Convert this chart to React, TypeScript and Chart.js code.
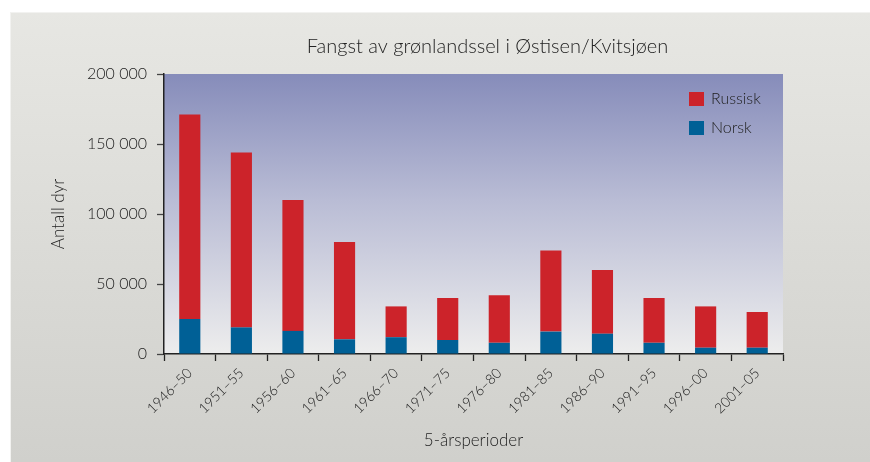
import React, { useEffect, useRef } from 'react';
import { Chart, registerables } from 'chart.js';

Chart.register(...registerables);

const titleText = 'Fangst av grønlandssel i Østisen/Kvitsjøen';
const yTitle = 'Antall dyr';
const xTitle = '5-årsperioder';

const categories = [
  '1946–50', '1951–55', '1956–60', '1961–65', '1966–70', '1971–75',
  '1976–80', '1981–85', '1986–90', '1991–95', '1996–00', '2001–05',
];

const norsk = [25000, 19000, 16500, 10500, 12000, 10000, 8000, 16000, 14500, 8000, 4500, 4500];
const russisk = [146000, 125000, 93500, 69500, 22000, 30000, 34000, 58000, 45500, 32000, 29500, 25500];

const yTickValues = [0, 50000, 100000, 150000, 200000];
const yTickLabels = ['0', '50 000', '100 000', '150 000', '200 000'];

const FONT = "Lato, 'Open Sans', 'DejaVu Sans', sans-serif";
const TEXT = '#222222';

const plotBgPlugin = {
  id: 'plotBg',
  beforeDraw(chart: any) {
    const { ctx, chartArea: a } = chart;
    const g = ctx.createLinearGradient(0, a.top, 0, a.bottom);
    g.addColorStop(0, '#868cba');
    g.addColorStop(0.45, '#b9bcd5');
    g.addColorStop(1, '#ededed');
    ctx.save();
    ctx.fillStyle = g;
    ctx.fillRect(a.left, a.top, a.right - a.left, a.bottom - a.top);
    ctx.restore();
  },
};

const titlePlugin = {
  id: 'customTitle',
  afterDraw(chart: any) {
    const { ctx, chartArea: a } = chart;
    ctx.save();
    ctx.font = `300 20px ${FONT}`;
    ctx.fillStyle = TEXT;
    ctx.textAlign = 'center';
    ctx.textBaseline = 'middle';
    ctx.fillText(titleText, (a.left + a.right) / 2 + 14, a.top - 27);
    ctx.restore();
  },
};

const legendPlugin = {
  id: 'insideLegend',
  afterDraw(chart: any) {
    const { ctx, chartArea: a } = chart;
    const ds = [...chart.data.datasets].reverse();
    ctx.save();
    ctx.font = `300 16px ${FONT}`;
    ctx.textBaseline = 'middle';
    ctx.textAlign = 'left';
    ds.forEach((d: any, i: number) => {
      const x = a.right - 94;
      const y = a.top + 18 + i * 29;
      ctx.fillStyle = d.backgroundColor;
      ctx.fillRect(x, y, 15, 14);
      ctx.fillStyle = TEXT;
      ctx.fillText(d.label, x + 22, y + 7);
    });
    ctx.restore();
  },
};

export default function App() {
  const ref = useRef<HTMLCanvasElement>(null);

  useEffect(() => {
    if (!ref.current) return;
    const chart = new Chart(ref.current, {
      type: 'bar',
      data: {
        labels: categories,
        datasets: [
          { label: 'Norsk', data: norsk, backgroundColor: '#006096', borderWidth: 0 },
          { label: 'Russisk', data: russisk, backgroundColor: '#cc232a', borderWidth: 0 },
        ],
      },
      options: {
        animation: false,
        responsive: false,
        devicePixelRatio: 1,
        layout: { padding: { left: 0, right: 87, top: 62, bottom: 0 } },
        datasets: { bar: { categoryPercentage: 1, barPercentage: 0.41 } },
        plugins: {
          legend: { display: false },
          title: { display: false },
          tooltip: { enabled: false },
        },
        scales: {
          x: {
            stacked: true,
            grid: { drawOnChartArea: false, tickLength: 7, tickColor: '#222', tickWidth: 1.3, offset: true },
            border: { display: true, color: '#222', width: 1.5 },
            ticks: {
              color: TEXT,
              font: { family: FONT, size: 14, weight: '300' },
              maxRotation: 45,
              minRotation: 45,
              padding: 4,
            },
            title: {
              display: true,
              text: xTitle,
              color: TEXT,
              font: { family: FONT, size: 17, weight: '300' },
              padding: { top: 0, bottom: 11 },
            },
            afterFit(scale: any) {
              scale.height = 108;
            },
          },
          y: {
            stacked: true,
            min: 0,
            max: 200000,
            afterBuildTicks(scale: any) {
              scale.ticks = yTickValues.map((v) => ({ value: v }));
            },
            grid: { drawOnChartArea: false, tickLength: 7, tickColor: '#444', tickWidth: 1.3 },
            border: { display: true, color: '#222', width: 1.5 },
            ticks: {
              color: TEXT,
              font: { family: FONT, size: 16, weight: '300' },
              padding: 10,
              callback: (v: any) => {
                const i = yTickValues.indexOf(Number(v));
                return i >= 0 ? yTickLabels[i] : '';
              },
            },
            title: {
              display: true,
              text: yTitle,
              color: TEXT,
              font: { family: FONT, size: 17, weight: '300' },
              padding: { top: 38, bottom: 0 },
            },
            afterFit(scale: any) {
              scale.width = 154;
            },
          },
        },
      },
      plugins: [plotBgPlugin, titlePlugin, legendPlugin],
    });
    return () => chart.destroy();
  }, []);

  return (
    <div style={{ position: 'absolute', left: 0, top: 0, width: 870, height: 462, background: '#fff', overflow: 'hidden' }}>
      <div
        style={{
          position: 'absolute',
          left: 10,
          top: 12,
          width: 860,
          height: 450,
          background: 'linear-gradient(#e7e7e3, #d0d0cc)',
          boxShadow: 'inset 1px 1px 0 #f2f2f0',
        }}
      >
        <canvas ref={ref} width={860} height={450} style={{ display: 'block' }} />
      </div>
    </div>
  );
}
